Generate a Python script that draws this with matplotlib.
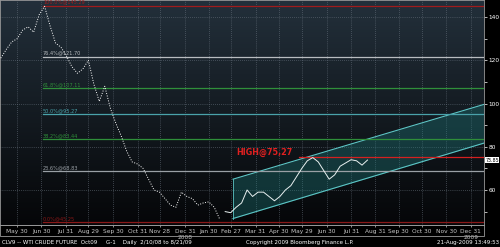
import numpy as np
import pandas as pd
import matplotlib
matplotlib.use('Agg')
import matplotlib.pyplot as plt
import matplotlib.dates as mdates
from matplotlib.patches import Rectangle

# weekly closes, CLV9 (Oct09 WTI) from 9 May 2008 to 21 Aug 2009
week_start = '2008-05-09'
closes = [121, 125, 128.5, 130, 134, 135.5, 133, 141, 145, 136,
          128, 126, 122, 117, 114, 116, 120, 109, 101, 108,
          98, 91, 85, 78, 73, 72, 70, 65, 60, 59,
          56, 53, 52, 59, 57, 56, 53, 54, 54.5, 52,
          46.5, 50, 49.5, 52, 54, 60, 57, 59, 59, 57,
          55, 57, 60, 62, 66, 70, 73.5, 75, 73, 69,
          65, 67, 71, 72.5, 74, 73.5, 71.5, 73.85]
last_price = 73.85

# fibonacci retracement levels
fib_start = '2008-07-02'
fib_values = [145.29, 121.70, 107.11, 95.27, 83.44, 68.83, 45.25]
fib_labels = ['100.0%@145.29', '76.4%@121.70', '61.8%@107.11', '50.0%@95.27',
              '38.2%@83.44', '23.6%@68.83', '0.0%@45.25']
fib_colors = ['#a01c1c', '#b8bcc0', '#2f8f3a', '#4aa2aa', '#2f8f3a', '#9aa0a6', '#8a1818']

# resistance line
high_value = 75.27
high_start = '2009-05-25'
high_label = 'HIGH@75,27'

# trend channel (start / end dates, upper and lower prices)
chan_dates = ['2009-03-02', '2010-01-17']
chan_upper = [65.0, 99.6]
chan_lower = [46.8, 81.7]

# x axis
tick_dates = ['2008-05-30', '2008-06-30', '2008-07-31', '2008-08-29', '2008-09-30',
              '2008-10-31', '2008-11-28', '2008-12-31', '2009-01-30', '2009-02-27',
              '2009-03-31', '2009-04-30', '2009-05-29', '2009-06-30', '2009-07-31',
              '2009-08-31', '2009-09-30', '2009-10-30', '2009-11-30', '2009-12-31']
tick_labels = ['May 30', 'Jun 30', 'Jul 31', 'Aug 29', 'Sep 30', 'Oct 31', 'Nov 28',
               'Dec 31\n2008', 'Jan 30', 'Feb 27', 'Mar 31', 'Apr 30', 'May 29',
               'Jun 30', 'Jul 31', 'Aug 31', 'Sep 30', 'Oct 30', 'Nov 30', 'Dec 31\n2009']
y_ticks = [140, 120, 100, 80, 60]
y_minor = [130, 110, 90, 70, 50]

x_left, x_right = pd.Timestamp('2008-05-08'), pd.Timestamp('2010-01-17')
y_low, y_high = 43.8, 147.9

fig = plt.figure(figsize=(5.0, 2.47), dpi=100)
fig.patch.set_facecolor('black')
ax = fig.add_axes([0, 22 / 247, 484 / 500, 225 / 247])

# dark slate gradient background
top = np.array([35, 48, 59]) / 255
bot = np.array([5, 6, 8]) / 255
t = np.linspace(0, 1, 256)[:, None]
grad = (top * (1 - t) + bot * t)[:, None, :]
ax.imshow(grad, extent=[0, 1, 0, 1], transform=ax.transAxes, aspect='auto', zorder=0)

ax.set_xlim(x_left, x_right)
ax.set_ylim(y_low, y_high)

# grid
for d in tick_dates:
    ax.axvline(pd.Timestamp(d), color='#6a7480', lw=0.5, ls=(0, (1, 2)), zorder=1)
for v in y_ticks:
    ax.axhline(v, color='#6a7480', lw=0.5, ls=(0, (1, 2)), zorder=1)

# channel
cd = mdates.date2num(pd.to_datetime(chan_dates))
ax.fill_between(cd, chan_lower, chan_upper, color='#1f8080', alpha=0.35, lw=0, zorder=2)
ax.plot(cd, chan_upper, color='#5cc6c6', lw=0.8, zorder=3)
ax.plot(cd, chan_lower, color='#5cc6c6', lw=0.8, zorder=3)
ax.plot([cd[0], cd[0]], [chan_lower[0], chan_upper[0]], color='#5cc6c6', lw=0.6, zorder=3)

# fibonacci levels
fs = pd.Timestamp(fib_start)
for v, lab, c in zip(fib_values, fib_labels, fib_colors):
    ax.plot([fs, x_right], [v, v], color=c, lw=0.9, zorder=3)
    ax.text(fs, v + 0.4, lab, color=c, fontsize=3.6, ha='left', va='bottom', zorder=4)

# high line
ax.plot([pd.Timestamp(high_start), x_right], [high_value, high_value],
        color='#d42020', lw=0.9, zorder=3)
ax.text(pd.Timestamp('2009-03-06'), 77.2, high_label, color='#e02020',
        fontsize=5.8, fontweight='bold', ha='left', va='center', zorder=5)

# price
dates = pd.date_range(week_start, periods=len(closes), freq='7D')
split = dates >= pd.Timestamp('2009-02-20')
ax.plot(dates[~split], np.array(closes)[~split], color='white', lw=0.7,
        ls=(0, (1, 1.6)), zorder=4)
ax.plot(dates[split], np.array(closes)[split], color='#e8f0f0', lw=0.7, zorder=4)

# axes styling
ax.xaxis.set_major_locator(matplotlib.ticker.FixedLocator(
    mdates.date2num(pd.to_datetime(tick_dates))))
ax.set_xticklabels(tick_labels)
ax.tick_params(axis='x', colors='#c8c8c8', labelsize=4.2, length=1.5, pad=1.5,
               direction='out', width=0.5)
ax.yaxis.tick_right()
ax.set_yticks(y_ticks)
ax.set_yticks(y_minor, minor=True)
ax.tick_params(axis='y', which='both', colors='white', labelsize=4.2, length=2,
               pad=1, width=0.5)
for s in ax.spines.values():
    s.set_color('#9a9a9a')
    s.set_linewidth(0.6)

# last price box
ax.annotate(f'{last_price:.2f}', xy=(1.0, last_price), xycoords=('axes fraction', 'data'),
            xytext=(1, 0), textcoords='offset points', fontsize=3.4, color='black',
            va='center', ha='left',
            bbox=dict(boxstyle='square,pad=0.1', fc='white', ec='none'), zorder=6)

# frame of the date strip
fig.patches.append(Rectangle((0, 11 / 247), 484 / 500, 11 / 247, transform=fig.transFigure,
                             fill=False, ec='#9a9a9a', lw=0.6))

# footer
fig.text(0.004, 5 / 247, 'CLV9 -- WTI CRUDE FUTURE  Oct09     G-1    Daily  2/10/08 to 8/21/09',
         color='white', fontsize=4, va='center', ha='left')
fig.text(0.6, 5 / 247, 'Copyright 2009 Bloomberg Finance L.P.',
         color='white', fontsize=4, va='center', ha='center')
fig.text(0.998, 5 / 247, '21-Aug-2009 13:49:53',
         color='white', fontsize=4, va='center', ha='right')

fig.savefig('out.png', dpi=100, facecolor='black')
